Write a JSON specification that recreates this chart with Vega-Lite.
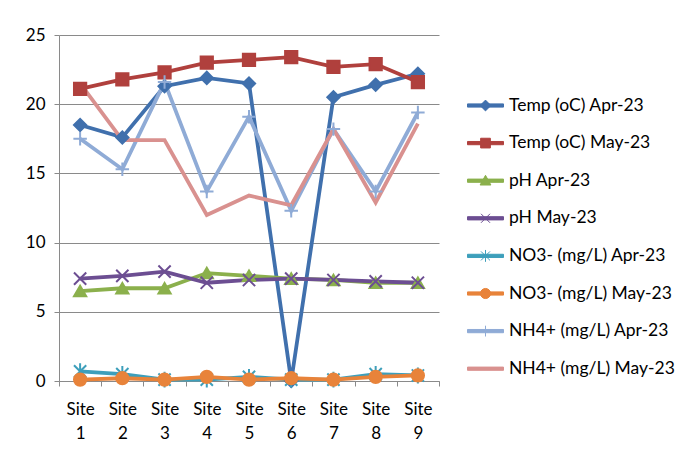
{
  "$schema": "https://vega.github.io/schema/vega-lite/v6.json",
  "width": 380,
  "height": 346,
  "autosize": {"type": "none"},
  "padding": {"left": 59, "top": 35, "right": 237, "bottom": 71},
  "background": "white",
  "config": {
    "view": {"stroke": null},
    "font": "Lato",
    "axis": {"labelFont": "Lato", "labelFontSize": 17, "labelColor": "#000", "domainColor": "#8a8a8a", "tickColor": "#8a8a8a", "gridColor": "#8a8a8a", "tickSize": 5, "title": null}
  },
  "data": {"values": [
    {"site": "Site 1", "series": "Temp (oC) Apr-23", "value": 18.5},
    {"site": "Site 2", "series": "Temp (oC) Apr-23", "value": 17.6},
    {"site": "Site 3", "series": "Temp (oC) Apr-23", "value": 21.3},
    {"site": "Site 4", "series": "Temp (oC) Apr-23", "value": 21.9},
    {"site": "Site 5", "series": "Temp (oC) Apr-23", "value": 21.5},
    {"site": "Site 6", "series": "Temp (oC) Apr-23", "value": 0.0},
    {"site": "Site 7", "series": "Temp (oC) Apr-23", "value": 20.5},
    {"site": "Site 8", "series": "Temp (oC) Apr-23", "value": 21.4},
    {"site": "Site 9", "series": "Temp (oC) Apr-23", "value": 22.2},
    {"site": "Site 1", "series": "Temp (oC) May-23", "value": 21.1},
    {"site": "Site 2", "series": "Temp (oC) May-23", "value": 21.8},
    {"site": "Site 3", "series": "Temp (oC) May-23", "value": 22.3},
    {"site": "Site 4", "series": "Temp (oC) May-23", "value": 23.0},
    {"site": "Site 5", "series": "Temp (oC) May-23", "value": 23.2},
    {"site": "Site 6", "series": "Temp (oC) May-23", "value": 23.4},
    {"site": "Site 7", "series": "Temp (oC) May-23", "value": 22.7},
    {"site": "Site 8", "series": "Temp (oC) May-23", "value": 22.9},
    {"site": "Site 9", "series": "Temp (oC) May-23", "value": 21.6},
    {"site": "Site 1", "series": "pH Apr-23", "value": 6.5},
    {"site": "Site 2", "series": "pH Apr-23", "value": 6.7},
    {"site": "Site 3", "series": "pH Apr-23", "value": 6.7},
    {"site": "Site 4", "series": "pH Apr-23", "value": 7.8},
    {"site": "Site 5", "series": "pH Apr-23", "value": 7.6},
    {"site": "Site 6", "series": "pH Apr-23", "value": 7.4},
    {"site": "Site 7", "series": "pH Apr-23", "value": 7.3},
    {"site": "Site 8", "series": "pH Apr-23", "value": 7.1},
    {"site": "Site 9", "series": "pH Apr-23", "value": 7.1},
    {"site": "Site 1", "series": "pH May-23", "value": 7.4},
    {"site": "Site 2", "series": "pH May-23", "value": 7.6},
    {"site": "Site 3", "series": "pH May-23", "value": 7.9},
    {"site": "Site 4", "series": "pH May-23", "value": 7.1},
    {"site": "Site 5", "series": "pH May-23", "value": 7.3},
    {"site": "Site 6", "series": "pH May-23", "value": 7.4},
    {"site": "Site 7", "series": "pH May-23", "value": 7.3},
    {"site": "Site 8", "series": "pH May-23", "value": 7.2},
    {"site": "Site 9", "series": "pH May-23", "value": 7.1},
    {"site": "Site 1", "series": "NO3- (mg/L) Apr-23", "value": 0.7},
    {"site": "Site 2", "series": "NO3- (mg/L) Apr-23", "value": 0.5},
    {"site": "Site 3", "series": "NO3- (mg/L) Apr-23", "value": 0.1},
    {"site": "Site 4", "series": "NO3- (mg/L) Apr-23", "value": 0.1},
    {"site": "Site 5", "series": "NO3- (mg/L) Apr-23", "value": 0.3},
    {"site": "Site 6", "series": "NO3- (mg/L) Apr-23", "value": 0.1},
    {"site": "Site 7", "series": "NO3- (mg/L) Apr-23", "value": 0.1},
    {"site": "Site 8", "series": "NO3- (mg/L) Apr-23", "value": 0.5},
    {"site": "Site 9", "series": "NO3- (mg/L) Apr-23", "value": 0.4},
    {"site": "Site 1", "series": "NO3- (mg/L) May-23", "value": 0.1},
    {"site": "Site 2", "series": "NO3- (mg/L) May-23", "value": 0.2},
    {"site": "Site 3", "series": "NO3- (mg/L) May-23", "value": 0.1},
    {"site": "Site 4", "series": "NO3- (mg/L) May-23", "value": 0.3},
    {"site": "Site 5", "series": "NO3- (mg/L) May-23", "value": 0.1},
    {"site": "Site 6", "series": "NO3- (mg/L) May-23", "value": 0.2},
    {"site": "Site 7", "series": "NO3- (mg/L) May-23", "value": 0.1},
    {"site": "Site 8", "series": "NO3- (mg/L) May-23", "value": 0.3},
    {"site": "Site 9", "series": "NO3- (mg/L) May-23", "value": 0.4},
    {"site": "Site 1", "series": "NH4+ (mg/L) Apr-23", "value": 17.5},
    {"site": "Site 2", "series": "NH4+ (mg/L) Apr-23", "value": 15.3},
    {"site": "Site 3", "series": "NH4+ (mg/L) Apr-23", "value": 21.6},
    {"site": "Site 4", "series": "NH4+ (mg/L) Apr-23", "value": 13.7},
    {"site": "Site 5", "series": "NH4+ (mg/L) Apr-23", "value": 19.1},
    {"site": "Site 6", "series": "NH4+ (mg/L) Apr-23", "value": 12.3},
    {"site": "Site 7", "series": "NH4+ (mg/L) Apr-23", "value": 18.2},
    {"site": "Site 8", "series": "NH4+ (mg/L) Apr-23", "value": 13.7},
    {"site": "Site 9", "series": "NH4+ (mg/L) Apr-23", "value": 19.4},
    {"site": "Site 1", "series": "NH4+ (mg/L) May-23", "value": 21.5},
    {"site": "Site 2", "series": "NH4+ (mg/L) May-23", "value": 17.4},
    {"site": "Site 3", "series": "NH4+ (mg/L) May-23", "value": 17.4},
    {"site": "Site 4", "series": "NH4+ (mg/L) May-23", "value": 12.0},
    {"site": "Site 5", "series": "NH4+ (mg/L) May-23", "value": 13.4},
    {"site": "Site 6", "series": "NH4+ (mg/L) May-23", "value": 12.7},
    {"site": "Site 7", "series": "NH4+ (mg/L) May-23", "value": 18.2},
    {"site": "Site 8", "series": "NH4+ (mg/L) May-23", "value": 12.9},
    {"site": "Site 9", "series": "NH4+ (mg/L) May-23", "value": 18.6}
  ]},
  "encoding": {
    "x": {
      "field": "site", "type": "ordinal", "bandPosition": 0.5,
      "scale": {"type": "band", "paddingInner": 0, "paddingOuter": 0},
      "axis": {"labelAngle": 0, "labelExpr": "split(datum.label, ' ')", "labelLineHeight": 24, "tickBand": "extent", "labelPadding": 15, "grid": false, "labelBaseline": "top"}
    },
    "y": {
      "field": "value", "type": "quantitative",
      "scale": {"domain": [0, 25], "nice": false},
      "axis": {"values": [0, 5, 10, 15, 20, 25], "labelPadding": 9, "grid": true}
    }
  },
  "resolve": {"legend": {"color": "independent", "shape": "independent", "stroke": "independent"}},
  "layer": [
    {
      "mark": {"type": "line", "strokeWidth": 3.8},
      "encoding": {
        "color": {
          "field": "series", "type": "nominal",
          "scale": {
            "domain": ["Temp (oC) Apr-23", "Temp (oC) May-23", "pH Apr-23", "pH May-23", "NO3- (mg/L) Apr-23", "NO3- (mg/L) May-23", "NH4+ (mg/L) Apr-23", "NH4+ (mg/L) May-23"],
            "range": ["#4070AD", "#B0403D", "#8BB04C", "#6C4E92", "#3D9FBB", "#E8833A", "#8FABD6", "#D9918F"]
          },
          "legend": {
            "title": null, "orient": "none", "legendX": 408, "legendY": 52,
            "symbolSize": 1296, "rowPadding": 10.6, "labelFont": "Lato", "labelFontSize": 17.5, "labelColor": "#000", "labelOffset": 5, "labelLimit": 300,
            "encode": {
              "symbols": {
                "update": {
                  "shape": {"signal": "['M-1,-0.09H1V0.09H-1Z M-0.3,0L0,-0.3L0.3,0L0,0.3Z', 'M-1,-0.09H1V0.09H-1Z M-0.27,-0.27H0.27V0.27H-0.27Z', 'M-1,-0.09H1V0.09H-1Z M0,-0.3L0.3,0.24H-0.3Z', 'M-1,-0.09H1V0.09H-1Z M-0.25,-0.25L0.25,0.25M-0.25,0.25L0.25,-0.25', 'M-1,-0.09H1V0.09H-1Z M-0.25,-0.25L0.25,0.25M-0.25,0.25L0.25,-0.25M0,-0.33V0.33', 'M-1,-0.09H1V0.09H-1Z M-0.28,0A0.28,0.28,0,1,1,0.28,0A0.28,0.28,0,1,1,-0.28,0Z', 'M-1,-0.09H1V0.09H-1Z M0,-0.3V0.3', 'M-1,-0.09H1V0.09H-1Z'][indexof(domain('color'), datum.value)]"},
                  "fill": {"signal": "scale('color', datum.value)"},
                  "stroke": {"signal": "scale('color', datum.value)"},
                  "strokeWidth": {"value": 1},
                  "opacity": {"value": 1}
                }
              }
            }
          }
        }
      }
    },
    {
      "mark": {"type": "point", "filled": true, "size": 150, "strokeWidth": 2, "opacity": 1},
      "encoding": {
        "color": {"field": "series", "type": "nominal", "legend": null},
        "stroke": {
          "field": "series", "type": "nominal", "legend": null,
          "scale": {
            "domain": ["Temp (oC) Apr-23", "Temp (oC) May-23", "pH Apr-23", "pH May-23", "NO3- (mg/L) Apr-23", "NO3- (mg/L) May-23", "NH4+ (mg/L) Apr-23", "NH4+ (mg/L) May-23"],
            "range": ["#4070AD", "#B0403D", "#8BB04C", "#6C4E92", "#3D9FBB", "#E8833A", "#8FABD6", "#D9918F"]
          }
        },
        "shape": {
          "field": "series", "type": "nominal", "legend": null,
          "scale": {
            "domain": ["Temp (oC) Apr-23", "Temp (oC) May-23", "pH Apr-23", "pH May-23", "NO3- (mg/L) Apr-23", "NO3- (mg/L) May-23", "NH4+ (mg/L) Apr-23", "NH4+ (mg/L) May-23"],
            "range": ["diamond", "square", "triangle-up", "M-1,-1L1,1M-1,1L1,-1", "M-1,-1L1,1M-1,1L1,-1M0,-1.3V1.3", "circle", "M-1.1,0H1.1M0,-1.1V1.1", "M0,0"]
          }
        }
      }
    }
  ]
}
